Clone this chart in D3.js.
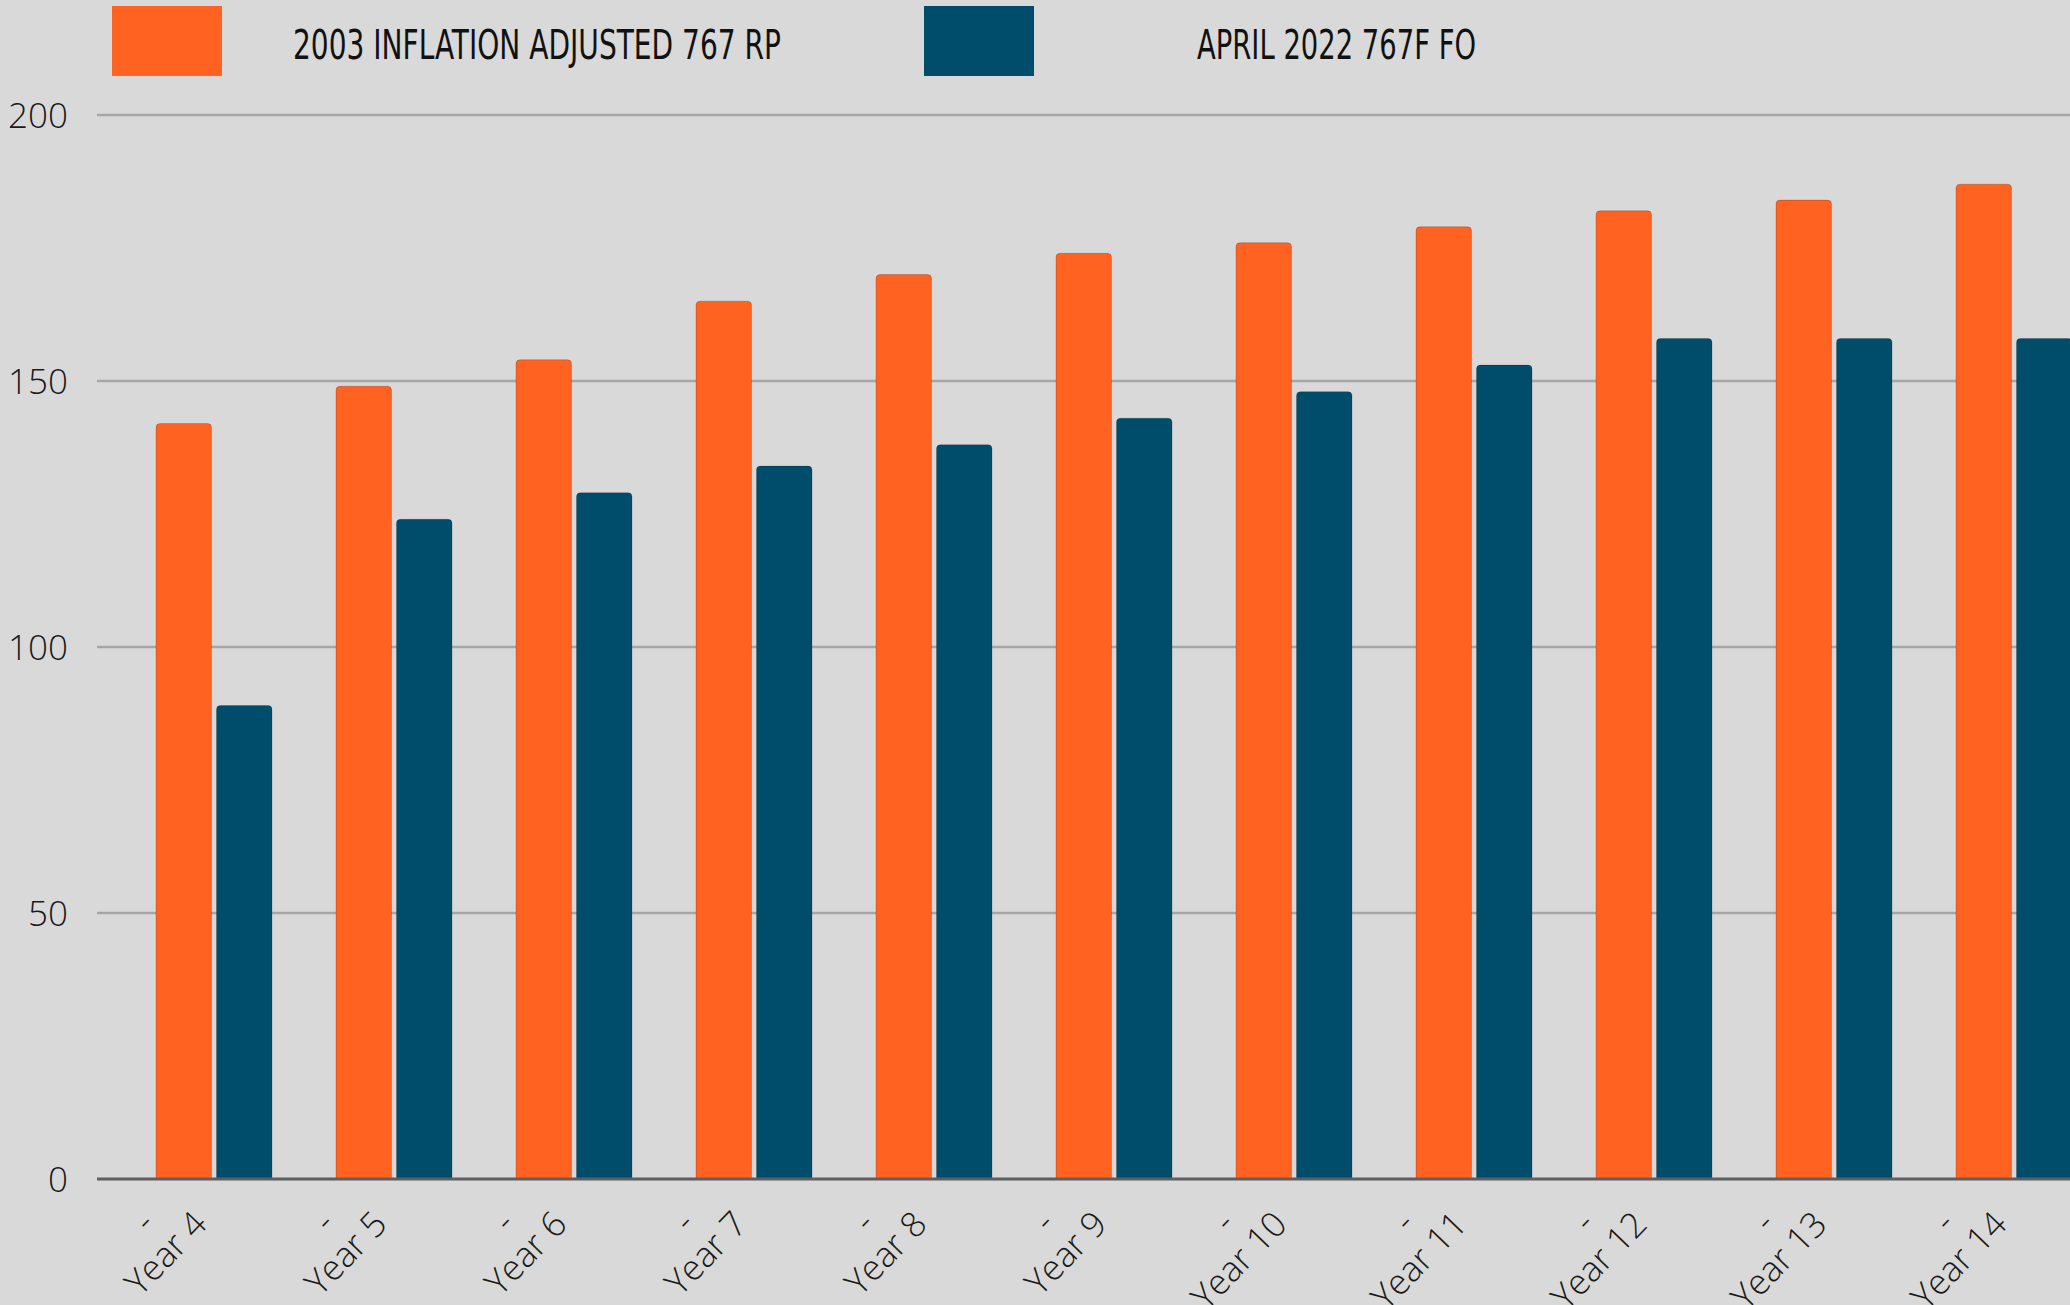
<!DOCTYPE html>
<html>
<head>
<meta charset="utf-8">
<script src="https://cdn.jsdelivr.net/npm/d3@7"></script>
<style>
    html, body { margin: 0; padding: 0; background: #d9d9d9; }
    svg { display: block; }
</style>
</head>
<body>
<svg class="chart"></svg>
<script>
const years = [`Year 4`, `Year 5`, `Year 6`, `Year 7`, `Year 8`, `Year 9`, `Year 10`, `Year 11`, `Year 12`, `Year 13`, `Year 14`];
const seriesNames = [`2003 INFLATION ADJUSTED 767 RP`, `APRIL 2022 767F FO`];
const rpValues = [142, 149, 154, 165, 170, 174, 176, 179, 182, 184, 187];
const foValues = [89, 124, 129, 134, 138, 143, 148, 153, 158, 158, 158];
const yTickValues = [0, 50, 100, 150, 200];

const width = 2070;
const height = 1305;
const colors = [`#ff6221`, `#004d6b`];

const data = years.map((year, i) => ({ year, values: [rpValues[i], foValues[i]] }));

const chart = d3.select(`.chart`)
    .attr(`width`, width)
    .attr(`height`, height);

chart.append(`rect`)
    .attr(`width`, width)
    .attr(`height`, height)
    .attr(`fill`, `#d9d9d9`);

const x = d3.scaleBand()
    .domain(years)
    .range([124, 2104]);

const xInner = d3.scaleBand()
    .domain([0, 1])
    .range([32, 148])
    .paddingInner(0.083);

const y = d3.scaleLinear()
    .domain([0, 200])
    .range([1179, 115]);

// gridlines + y labels
const grid = chart.append(`g`);
grid.selectAll(`line`)
    .data(yTickValues.filter(d => d > 0))
    .enter().append(`line`)
        .attr(`x1`, 97)
        .attr(`x2`, width)
        .attr(`y1`, d => y(d))
        .attr(`y2`, d => y(d))
        .attr(`stroke`, `#a6a6a6`)
        .attr(`stroke-width`, 2.5);

grid.selectAll(`text`)
    .data(yTickValues)
    .enter().append(`text`)
        .attr(`x`, 68)
        .attr(`y`, d => y(d))
        .attr(`dy`, `0.36em`)
        .attr(`text-anchor`, `end`)
        .attr(`font-family`, `'Open Sans', sans-serif`)
        .attr(`font-weight`, 300)
        .attr(`font-size`, `35px`)
        .attr(`fill`, `#1a1a1a`)
        .text(d => d);

// bars, rounded on top
const barPath = (x0, w, top, bottom) => {
    const r = 4;
    return `M${x0},${bottom} V${top + r} Q${x0},${top} ${x0 + r},${top} H${x0 + w - r} Q${x0 + w},${top} ${x0 + w},${top + r} V${bottom} Z`;
};

const groups = chart.selectAll(`g.group`)
        .data(data)
    .enter().append(`g`)
        .attr(`class`, `group`)
        .attr(`transform`, d => `translate(${x(d.year)}, 0)`);

groups.selectAll(`path`)
        .data(d => d.values.map((v, i) => ({ v, i })))
    .enter().append(`path`)
        .attr(`d`, d => barPath(xInner(d.i), xInner.bandwidth(), y(d.v), y(0)))
        .attr(`fill`, d => colors[d.i])
        .attr(`stroke`, `rgba(0,0,0,0.18)`)
        .attr(`stroke-width`, 1);

// baseline
chart.append(`line`)
    .attr(`x1`, 97)
    .attr(`x2`, width)
    .attr(`y1`, y(0))
    .attr(`y2`, y(0))
    .attr(`stroke`, `#5f5f5f`)
    .attr(`stroke-width`, 3);

// x labels, rotated
const labels = chart.selectAll(`g.xlabel`)
        .data(years)
    .enter().append(`g`)
        .attr(`class`, `xlabel`)
        .attr(`transform`, d => `translate(${x(d) + x.bandwidth() / 2 - 5}, 1226) rotate(-46)`)
        .attr(`font-family`, `'Open Sans', sans-serif`)
        .attr(`font-weight`, 300)
        .attr(`font-size`, `35px`)
        .attr(`fill`, `#1a1a1a`);

labels.append(`text`)
    .attr(`text-anchor`, `end`)
    .text(d => d);

labels.append(`text`)
    .attr(`x`, -42)
    .attr(`y`, -38)
    .attr(`text-anchor`, `middle`)
    .text(`-`);

// legend
const legendX = [112, 924];
const legendTextX = [293, 1197];
const legendTextW = [488, 279];

const legend = chart.selectAll(`g.legend`)
        .data(seriesNames)
    .enter().append(`g`)
        .attr(`class`, `legend`);

legend.append(`rect`)
    .attr(`x`, (d, i) => legendX[i])
    .attr(`y`, 6)
    .attr(`width`, 110)
    .attr(`height`, 70)
    .attr(`fill`, (d, i) => colors[i]);

legend.append(`text`)
    .attr(`x`, (d, i) => legendTextX[i])
    .attr(`y`, 59)
    .attr(`font-family`, `'Liberation Sans Narrow', 'DejaVu Sans Condensed', sans-serif`)
    .attr(`font-size`, `41px`)
    .attr(`fill`, `#111`)
    .attr(`textLength`, (d, i) => legendTextW[i])
    .attr(`lengthAdjust`, `spacingAndGlyphs`)
    .text(d => d);
</script>
</body>
</html>
